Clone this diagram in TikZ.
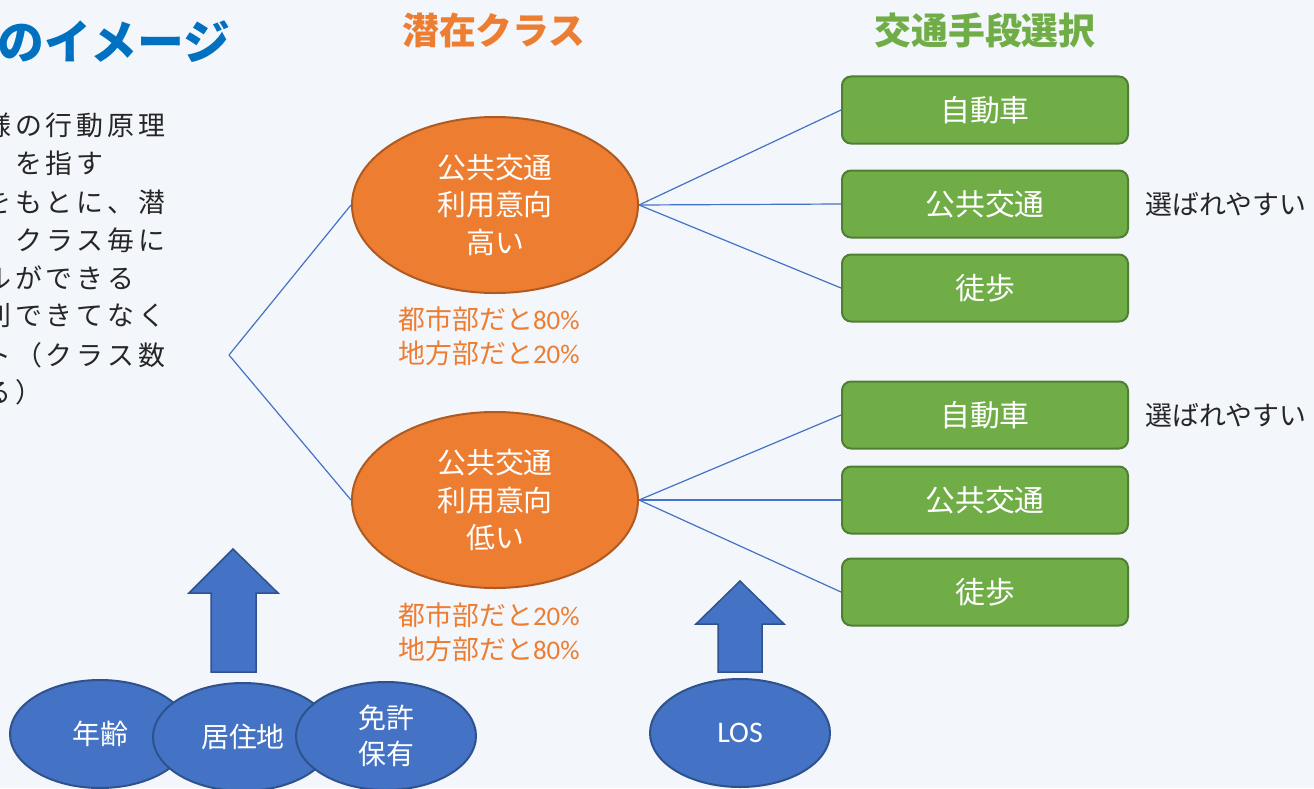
\documentclass[tikz,border=0pt]{standalone}
\usepackage{fontspec}
\setmainfont{Noto Sans CJK JP}
\newfontfamily\lat{Carlito}
\usetikzlibrary{shapes.geometric}
\definecolor{bg}{HTML}{F3F6FB}
\definecolor{titleblue}{HTML}{0070C0}
\definecolor{orng}{HTML}{ED7D31}
\definecolor{orngdark}{HTML}{AE5A21}
\definecolor{grn}{HTML}{70AD47}
\definecolor{grndark}{HTML}{507E32}
\definecolor{blu}{HTML}{4472C4}
\definecolor{bludark}{HTML}{2F528F}
\definecolor{txtdark}{HTML}{262626}
\newcommand\spc[1]{\spcA#1\relax}
\def\spcA#1{\ifx\relax#1\else#1\kern4bp\expandafter\spcA\fi}
\begin{document}
\begin{tikzpicture}[x=1bp,y=-1bp,
  lefttxt/.style={anchor=west,inner sep=0pt,text=txtdark,font=\fontsize{27}{27}\selectfont},
  headtxt/.style={inner sep=0pt,font=\bfseries\fontsize{37}{37}\selectfont},
  oval/.style={ellipse,draw=orngdark,fill=orng,line width=2bp,minimum width=286bp,minimum height=176bp,inner sep=0pt,
    text=white,align=center,font=\fontsize{29}{38}\selectfont},
  share/.style={inner sep=0pt,text=orng,align=center,font=\fontsize{27}{34}\selectfont},
  modebox/.style={draw=grndark,fill=grn,line width=2bp,rounded corners=9bp,minimum width=286bp,minimum height=67bp,
    inner sep=0pt,text=white,font=\fontsize{30}{30}\selectfont},
  note/.style={anchor=west,inner sep=0pt,text=txtdark,font=\fontsize{27}{27}\selectfont},
  conn/.style={draw=blu,line width=1.2bp},
  uparrow/.style={draw=bludark,fill=blu,line width=1.5bp,line join=miter},
  factor/.style={ellipse,draw=bludark,fill=blu,line width=2bp,minimum width=180bp,minimum height=108bp,inner sep=0pt,
    text=white,align=center,font=\fontsize{28}{36}\selectfont}]
\useasboundingbox (0,0) rectangle (1314,788);
\fill[bg] (0,0) rectangle (1314,788);
\begin{scope}
\clip (0,0) rectangle (1314,788);
% title and headings
\node[anchor=west,inner sep=0pt,text=titleblue,font=\bfseries\fontsize{47}{47}\selectfont] (ttl) at (-3,42) {のイメージ};
\node[headtxt,text=orng] (hcls) at (494,30) {潜在クラス};
\node[headtxt,text=grn] (hmode) at (985,30) {交通手段選択};
% left body text (cut off at the left edge, as in the source slide)
\node[lefttxt] (t1) at (-16,125) {\spc{様の行動原理}};
\node[lefttxt] (t2) at (-16,163) {\spc{」を指す}};
\node[lefttxt] (t3) at (-16,202) {\spc{をもとに、潜}};
\node[lefttxt] (t4) at (15,240) {\spc{クラス毎に}};
\node[lefttxt] (t5) at (-16,278) {\spc{ルができる}};
\node[lefttxt] (t6) at (-16,316) {\spc{別できてなく}};
\node[lefttxt] (t7) at (-16,355) {\spc{ト（クラス数}};
\node[lefttxt] (t8) at (-16,392) {\spc{る）}};
% latent classes
\node[oval] (hi) at (495,205) {公共交通\\利用意向\\高い};
\node[oval] (lo) at (495,500) {公共交通\\利用意向\\低い};
\node[share] (hishare) at (489,336) {都市部だと{\lat 80\%}\\地方部だと{\lat 20\%}};
\node[share] (loshare) at (489,632) {都市部だと{\lat 20\%}\\地方部だと{\lat 80\%}};
% mode boxes
\node[modebox] (m1) at (985,110) {自動車};
\node[modebox] (m2) at (985,204) {公共交通};
\node[modebox] (m3) at (985,288) {徒歩};
\node[modebox] (m4) at (985,415) {自動車};
\node[modebox] (m5) at (985,500) {公共交通};
\node[modebox] (m6) at (985,592) {徒歩};
\node[note] (n1) at (1145,204) {選ばれやすい};
\node[note] (n2) at (1145,415) {選ばれやすい};
% connectors
\coordinate (root) at (229,355);
\draw[conn] (root) -- (hi.west);
\draw[conn] (root) -- (lo.west);
\draw[conn] (hi.east) -- (m1.west);
\draw[conn] (hi.east) -- (m2.west);
\draw[conn] (hi.east) -- (m3.west);
\draw[conn] (lo.east) -- (m4.west);
\draw[conn] (lo.east) -- (m5.west);
\draw[conn] (lo.east) -- (m6.west);
% block arrows
\draw[uparrow] (233,549) -- (278,593) -- (256,593) -- (256,672) -- (211,672) -- (211,593) -- (189,593) -- cycle;
\draw[uparrow] (740,581) -- (784,624) -- (762,624) -- (762,672) -- (718,672) -- (718,624) -- (696,624) -- cycle;
% explanatory factors
\node[factor] (age) at (100,734) {年齢};
\node[factor] (home) at (243,737) {居住地};
\node[factor] (lic) at (386,736) {免許\\保有};
\node[factor,font=\lat\fontsize{30}{30}\selectfont] (los) at (740,733) {LOS};
\end{scope}
\end{tikzpicture}
\end{document}
